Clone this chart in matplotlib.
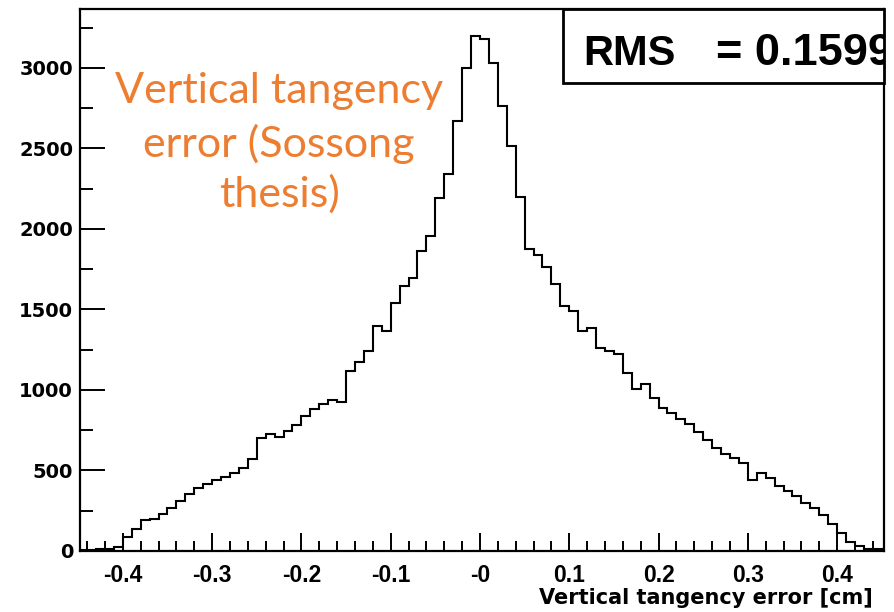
import numpy as np
import matplotlib
matplotlib.use('Agg')
import matplotlib.pyplot as plt
from matplotlib.patches import Rectangle
from matplotlib.ticker import MultipleLocator

# histogram of the vertical tangency error, 0.01 cm bins from -0.45 to 0.45
counts = [8, 5, 10, 12, 25, 90, 135, 190, 198, 228,
          270, 310, 356, 393, 418, 440, 460, 486, 517, 570,
          704, 725, 708, 745, 780, 840, 880, 915, 940, 925,
          1118, 1175, 1245, 1398, 1366, 1540, 1646, 1698, 1863, 1957,
          2195, 2340, 2671, 3002, 3199, 3178, 3033, 2764, 2516, 2200,
          1874, 1838, 1765, 1657, 1522, 1491, 1366, 1387, 1263, 1242,
          1222, 1108, 1004, 1035, 952, 890, 860, 820, 790, 740,
          690, 640, 600, 575, 545, 440, 486, 455, 404, 373,
          340, 300, 265, 225, 170, 110, 55, 28, 10, 15]
bin_low = -0.45
bin_high = 0.45

x_ticks = [-0.4, -0.3, -0.2, -0.1, 0.0, 0.1, 0.2, 0.3, 0.4]
x_tick_labels = ['-0.4', '-0.3', '-0.2', '-0.1', '-0', '0.1', '0.2', '0.3', '0.4']
y_ticks = [0, 500, 1000, 1500, 2000, 2500, 3000]
y_tick_labels = ['0', '500', '1000', '1500', '2000', '2500', '3000']

x_title = 'Vertical tangency error [cm]'
rms_text = '= 0.1599'
note_lines = ['Vertical tangency', 'error (Sossong', 'thesis)']
note_color = '#ED7D31'

W, H = 894, 612


def fx(px):
    return px / W


def fy(py):
    return 1 - py / H


edges = np.linspace(bin_low, bin_high, len(counts) + 1)

fig = plt.figure(figsize=(W / 100, H / 100), dpi=100)
ax = fig.add_axes([fx(80), fy(551), fx(884) - fx(80), fy(9) - fy(551)])

ax.stairs(counts, edges, color='black', linewidth=1.5, baseline=0)

ax.set_xlim(-0.448, 0.4525)
ax.set_ylim(0, 3366)

ax.set_xticks(x_ticks, x_tick_labels, fontsize=16.5, fontweight='bold',
              family='Liberation Sans')
ax.set_yticks(y_ticks, y_tick_labels, fontsize=14, fontweight='bold',
              family='DejaVu Sans')
ax.xaxis.set_minor_locator(MultipleLocator(0.02))
ax.yaxis.set_minor_locator(MultipleLocator(250))

ax.tick_params(axis='x', which='major', direction='in', length=13, width=1.4, pad=9)
ax.tick_params(axis='x', which='minor', direction='in', length=7, width=1.4)
ax.tick_params(axis='y', which='major', direction='in', length=18, width=1.4, pad=5)
ax.tick_params(axis='y', which='minor', direction='in', length=9.5, width=1.4)

for sp in ax.spines.values():
    sp.set_linewidth(1.6)

# stats box in the top right corner, the value runs past its edge
box = Rectangle((fx(563), fy(83)), fx(884) - fx(563), fy(9) - fy(83),
                transform=fig.transFigure, facecolor='white', edgecolor='black',
                linewidth=2, zorder=3, clip_on=False)
ax.add_patch(box)
ax.text(fx(583), fy(65), 'RMS', transform=fig.transFigure, fontsize=30,
        fontweight='bold', family='Liberation Sans', va='baseline', zorder=4)
ax.text(fx(716), fy(65), rms_text, transform=fig.transFigure, fontsize=32.5,
        fontweight='bold', family='Liberation Sans', va='baseline', zorder=4,
        clip_on=True)

fig.text(fx(873), fy(604), x_title, ha='right', va='baseline', fontsize=15,
         fontweight='bold', family='DejaVu Sans')

for line, base in zip(note_lines, [103, 157, 207]):
    fig.text(fx(279), fy(base), line, ha='center', va='baseline', fontsize=31,
             color=note_color, family='Lato')

fig.savefig('out.png', dpi=100)
